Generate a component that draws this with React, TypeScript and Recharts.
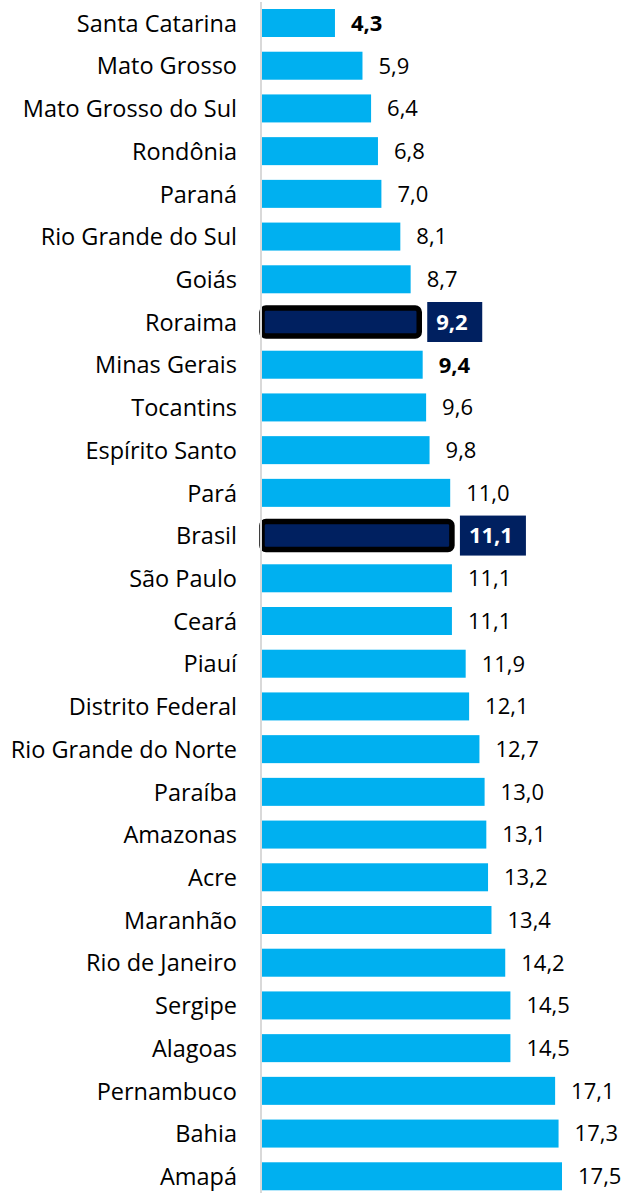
import { BarChart, Bar, XAxis, YAxis, LabelList } from 'recharts';

const states = [
  'Santa Catarina', 'Mato Grosso', 'Mato Grosso do Sul', 'Rondônia', 'Paraná',
  'Rio Grande do Sul', 'Goiás', 'Roraima', 'Minas Gerais', 'Tocantins',
  'Espírito Santo', 'Pará', 'Brasil', 'São Paulo', 'Ceará', 'Piauí',
  'Distrito Federal', 'Rio Grande do Norte', 'Paraíba', 'Amazonas', 'Acre',
  'Maranhão', 'Rio de Janeiro', 'Sergipe', 'Alagoas', 'Pernambuco', 'Bahia', 'Amapá',
];

const rates = [
  4.3, 5.9, 6.4, 6.8, 7.0, 8.1, 8.7, 9.2, 9.4, 9.6, 9.8, 11.0, 11.1, 11.1,
  11.1, 11.9, 12.1, 12.7, 13.0, 13.1, 13.2, 13.4, 14.2, 14.5, 14.5, 17.1, 17.3, 17.5,
];

const highlighted = ['Roraima', 'Brasil'];
const boldLabels = ['Santa Catarina', 'Minas Gerais'];

const data = states.map((name, i) => ({ name, value: rates[i] }));

const FONT = '"Open Sans", sans-serif';
const FS = 22;
const NAVY = '#002060';

const fmt = (v: number) => v.toFixed(1).replace('.', ',');

function BarShape(props: any) {
  const { x, y, width, height, payload } = props;
  if (highlighted.includes(payload.name)) {
    return (
      <rect x={x + 1} y={y} width={width - 1} height={height} rx={4}
        fill={NAVY} stroke="#000" strokeWidth={5.5} />
    );
  }
  return <rect x={x} y={y} width={width} height={height} fill="#00B0F0" />;
}

function ValueLabel(props: any) {
  const { x, y, width, height, value, index } = props;
  const name = states[index];
  const text = fmt(Number(value));
  const end = x + width;
  const cy = y + height / 2;
  if (highlighted.includes(name)) {
    const tw = text.length * 0.5 * FS + 2;
    return (
      <g>
        <rect x={end + 8} y={cy - 20} width={tw + 20} height={40} fill={NAVY} />
        <text x={end + 17} y={cy} dy="0.36em" fill="#fff" fontWeight="bold"
          fontFamily={FONT} fontSize={FS}>{text}</text>
      </g>
    );
  }
  return (
    <text x={end + 16} y={cy} dy="0.36em" fill="#000"
      fontWeight={boldLabels.includes(name) ? 'bold' : 'normal'}
      fontFamily={FONT} fontSize={FS}>{text}</text>
  );
}

export default function App() {
  return (
    <div style={{ position: 'absolute', left: 0, top: 0, width: 630, height: 1193, overflow: 'hidden', background: '#fff' }}>
      <BarChart width={630} height={1198} data={data} layout="vertical"
        margin={{ top: 2, right: 25, left: 0, bottom: 0 }}>
        <XAxis type="number" domain={[0, 20]} hide />
        <YAxis type="category" dataKey="name" width={261} tickSize={0} tickMargin={24}
          axisLine={{ stroke: '#D9D9D9', strokeWidth: 2 }} tickLine={false} interval={0}
          tick={{ fill: '#000', fontFamily: FONT, fontSize: 23.5 }} />
        <Bar dataKey="value" barSize={28} shape={BarShape} isAnimationActive={false}>
          <LabelList dataKey="value" content={ValueLabel} />
        </Bar>
      </BarChart>
    </div>
  );
}
